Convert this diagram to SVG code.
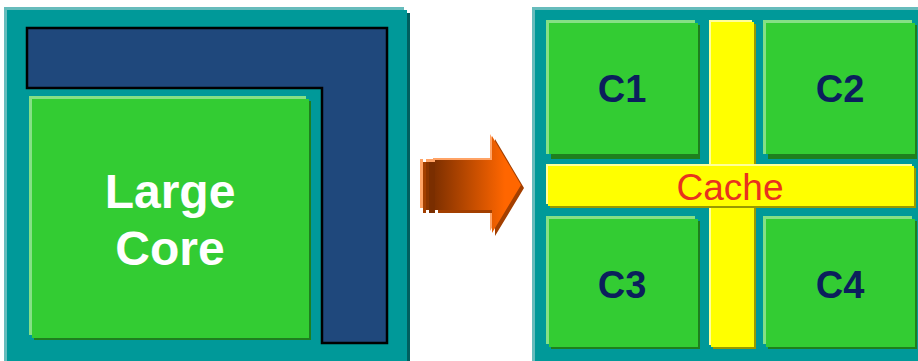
<svg xmlns="http://www.w3.org/2000/svg" width="918" height="361" viewBox="0 0 918 361">
  <defs>
    <linearGradient id="arrowFill" gradientUnits="userSpaceOnUse" x1="432" y1="0" x2="505" y2="0">
      <stop offset="0" stop-color="#7a2e00"/>
      <stop offset="1" stop-color="#ff6600"/>
    </linearGradient>
    <style>
      .hiTeal { fill: #66bcbc; }
      .teal { fill: #009999; }
      .shTeal { fill: #005f5f; }
      .hiGreen { fill: #85e085; }
      .green { fill: #33cc33; }
      .shGreen { fill: #1e7f1e; }
      .hiYellow { fill: #ffff99; }
      .yellow { fill: #ffff00; }
      .shYellow { fill: #999900; }
      .coreLabel { font-family: "Liberation Sans", Arial, sans-serif; font-weight: bold; font-size: 38px; fill: #0b1f5c; text-anchor: middle; }
      .bigLabel { font-family: "Liberation Sans", Arial, sans-serif; font-weight: bold; font-size: 48px; fill: #ffffff; text-anchor: middle; }
      .cacheLabel { font-family: "Liberation Sans", Arial, sans-serif; font-size: 37px; fill: #e8321e; text-anchor: middle; }
    </style>
  </defs>

  <!-- Left die: one large core -->
  <g id="left-die">
    <rect class="hiTeal" x="4" y="7" width="400" height="360"/>
    <rect class="shTeal" x="10" y="13" width="400" height="360"/>
    <rect class="teal" x="7" y="10" width="400" height="360"/>
    <polygon points="27,28 387,28 387,343 322,343 322,88 27,88" fill="#1f487c" stroke="#000000" stroke-width="2.5"/>
  </g>

  <g id="large-core">
    <rect class="hiGreen" x="29" y="96" width="277" height="239"/>
    <rect class="shGreen" x="34" y="101" width="277" height="239"/>
    <rect class="green" x="32" y="99" width="277" height="239"/>
    <text class="bigLabel" x="170" y="208">Large</text>
    <text class="bigLabel" x="170" y="265">Core</text>
  </g>

  <!-- Transition arrow -->
  <g id="arrow">
    <polygon points="433,158 490,158 490,134 519,183 490,231 490,208 433,208" fill="#ffa366"/>
    <polygon points="438,163 495,163 495,139 524,188 495,236 495,213 438,213" fill="#a33f00"/>
    <polygon points="435,160 492,160 492,136 521,185 492,233 492,210 435,210" fill="url(#arrowFill)"/>
    <rect x="420" y="159" width="3" height="49" fill="#ffa366"/>
    <rect x="423" y="162" width="3" height="51" fill="#a33f00"/>
    <rect x="426" y="161" width="3" height="49" fill="#8a3400"/>
    <rect x="426" y="159" width="6" height="3" fill="#ffa366"/>
    <rect x="429" y="162" width="3" height="51" fill="#7a2e00"/>
    <rect x="432" y="159" width="3" height="49" fill="#ffa366"/>
    <rect x="432" y="162" width="3" height="51" fill="#7a2e00"/>
  </g>

  <!-- Right die: four small cores around a shared cache -->
  <g id="right-die">
    <rect class="hiTeal" x="532" y="7" width="400" height="360"/>
    <rect class="teal" x="535" y="10" width="400" height="360"/>
  </g>

  <g id="cache">
    <rect class="hiYellow" x="709" y="20" width="43" height="325"/>
    <rect class="shYellow" x="713" y="24" width="43" height="325"/>
    <rect class="yellow" x="711" y="22" width="43" height="325"/>
    <rect class="hiYellow" x="546" y="164" width="366" height="40"/>
    <rect class="shYellow" x="550" y="168" width="366" height="40"/>
    <rect class="yellow" x="548" y="166" width="366" height="40"/>
    <text class="cacheLabel" x="730" y="200">Cache</text>
  </g>

  <g id="core-c1">
    <rect class="hiGreen" x="546" y="20" width="149" height="134"/>
    <rect class="shGreen" x="551" y="25" width="149" height="134"/>
    <rect class="green" x="549" y="23" width="149" height="131"/>
    <text class="coreLabel" x="622" y="102">C1</text>
  </g>

  <g id="core-c2">
    <rect class="hiGreen" x="763" y="20" width="149" height="134"/>
    <rect class="shGreen" x="768" y="25" width="149" height="134"/>
    <rect class="green" x="766" y="23" width="149" height="131"/>
    <text class="coreLabel" x="840" y="102">C2</text>
  </g>

  <g id="core-c3">
    <rect class="hiGreen" x="546" y="216" width="149" height="128"/>
    <rect class="shGreen" x="551" y="221" width="149" height="128"/>
    <rect class="green" x="549" y="219" width="149" height="128"/>
    <text class="coreLabel" x="622" y="298">C3</text>
  </g>

  <g id="core-c4">
    <rect class="hiGreen" x="763" y="216" width="149" height="128"/>
    <rect class="shGreen" x="768" y="221" width="149" height="128"/>
    <rect class="green" x="766" y="219" width="149" height="128"/>
    <text class="coreLabel" x="840" y="298">C4</text>
  </g>
</svg>
